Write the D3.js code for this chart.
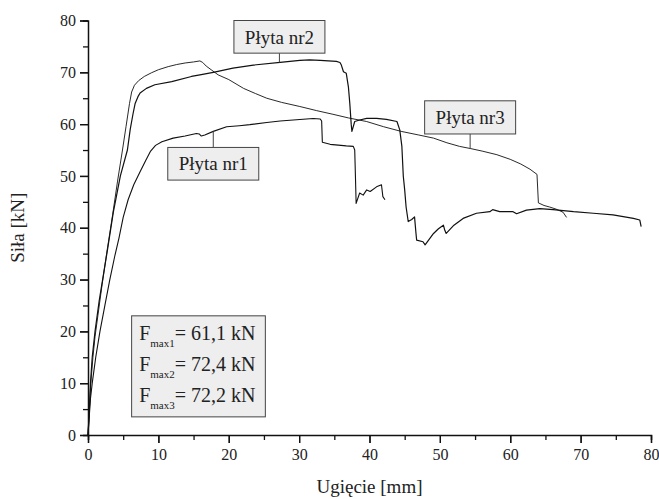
<!DOCTYPE html>
<html>
<head>
<meta charset="utf-8">
<script src="https://cdn.jsdelivr.net/npm/d3@7/dist/d3.min.js"></script>
<style>
  html, body { margin: 0; padding: 0; background: #fff; }
  svg { display: block; font-family: "Liberation Serif", "Times New Roman", serif; }
</style>
</head>
<body>
<svg id="chart" width="659" height="499"></svg>
<script>
// Load–deflection curves of three slabs (deflection in mm, force in kN)
const plyta1X = [0, 0.15, 0.35, 0.6, 1.1, 1.7, 2.4, 3.1, 3.8, 4.4, 5.0, 5.7, 6.5, 7.4, 8.2, 8.9, 9.6, 10.5, 12.1, 13.8, 15.4, 15.8, 16.1, 16.6, 17.8, 19.7, 21.5, 23.0, 25.4, 27.3, 30.1, 32.0, 33.0, 33.2, 33.3, 34.4, 36.7, 37.7, 37.9, 38.0, 38.1, 38.6, 39.1, 39.6, 40.1, 41.0, 41.7, 41.9, 42.2];
const plyta1Y = [0, 3, 7, 10, 15, 20, 25, 30, 34.5, 38, 42, 45.4, 48.3, 50.8, 53, 54.8, 55.9, 56.6, 57.3, 57.7, 58.2, 58.1, 57.7, 57.9, 58.6, 59.5, 59.7, 59.9, 60.3, 60.6, 60.9, 61.1, 61.0, 60.6, 56.5, 56.1, 55.8, 55.7, 55.0, 50, 44.7, 46.7, 46.3, 47.3, 47.0, 47.9, 48.3, 46.0, 45.4];

const plyta2X = [0, 0.2, 0.35, 0.6, 1.0, 1.6, 2.2, 2.8, 3.6, 4.6, 5.6, 6.0, 6.4, 6.7, 7.1, 7.4, 8.3, 9.5, 11.9, 14.7, 15.9, 17.8, 20.6, 23.5, 27.3, 30.1, 31.5, 33.0, 35.3, 35.8, 36.0, 36.3, 36.7, 37.0, 37.2, 37.4, 37.5, 37.9, 38.6, 39.6, 41.0, 42.4, 43.9, 44.3, 44.6, 44.8, 45.0, 45.2, 45.5, 46.0, 46.4, 46.6, 46.7, 47.6, 47.9, 48.5, 49.1, 49.8, 50.5, 50.7, 50.9, 52.0, 53.3, 55.2, 57.1, 57.5, 58.5, 60.4, 60.9, 62.3, 64.2, 66.1, 69.0, 71.8, 74.6, 77.5, 78.4, 78.6];
const plyta2Y = [0, 5, 10, 15, 20, 26, 31, 36, 43, 50, 55, 59, 62, 64, 65.3, 66.0, 66.9, 67.6, 68.2, 69.2, 69.5, 70.0, 70.8, 71.4, 71.9, 72.3, 72.4, 72.3, 72.1, 71.9, 71.4, 70.1, 69.8, 67.2, 64.0, 60, 58.6, 60.5, 60.8, 61.1, 61.1, 60.9, 60.5, 58.9, 55.7, 50, 47.3, 44, 41.2, 41.6, 42.1, 39, 37.6, 37.3, 36.7, 37.8, 38.9, 39.8, 40.5, 39.5, 38.9, 40.5, 41.8, 42.8, 43.1, 43.5, 43.1, 43.1, 42.7, 43.4, 43.7, 43.5, 43.1, 42.8, 42.5, 41.8, 41.5, 40.2];

const plyta3X = [0, 0.15, 0.4, 0.7, 1.0, 1.4, 2.0, 2.7, 3.5, 4.2, 4.9, 5.4, 5.9, 6.2, 6.6, 7.2, 8.0, 9.0, 10.0, 11.4, 12.6, 13.8, 15.0, 15.9, 16.3, 16.8, 17.5, 18.5, 20.0, 22.1, 23.8, 25.4, 27.5, 30.1, 32.5, 34.8, 37.0, 39.6, 42.0, 44.5, 47.0, 49.1, 51.0, 52.8, 54.3, 56.0, 58.1, 60.0, 61.5, 62.8, 63.8, 64.0, 64.8, 65.6, 66.5, 67.5, 68.0];
const plyta3Y = [0, 4, 10, 15, 19, 23, 29, 35.5, 42.5, 49, 55, 59.5, 64, 66.2, 67.5, 68.4, 69.2, 69.9, 70.5, 71.1, 71.5, 71.8, 72.0, 72.2, 71.9, 71.2, 70.5, 69.5, 68.6, 66.9, 65.9, 65.0, 64.2, 63.4, 62.6, 61.9, 61.2, 60.5, 59.5, 58.6, 57.9, 57.3, 56.4, 55.7, 55.3, 54.8, 54.1, 53.2, 52.3, 51.3, 50.3, 44.8, 44.3, 44.0, 43.6, 43.0, 42.0];

const seriesNames = ["Płyta nr1", "Płyta nr2", "Płyta nr3"];
const fmaxNames = ["max1", "max2", "max3"];
const fmaxValues = ["61,1", "72,4", "72,2"];
const xTicks = [0, 10, 20, 30, 40, 50, 60, 70, 80];
const yTicks = [0, 10, 20, 30, 40, 50, 60, 70, 80];
const xTitle = "Ugięcie [mm]";
const yTitle = "Siła [kN]";

const svg = d3.select("#chart");
const x = d3.scaleLinear().domain([0, 80]).range([88, 651]);
const y = d3.scaleLinear().domain([0, 80]).range([435, 20.5]);

const curves = [
  { name: seriesNames[0], xs: plyta1X, ys: plyta1Y, width: 1.1 },
  { name: seriesNames[1], xs: plyta2X, ys: plyta2Y, width: 1.2 },
  { name: seriesNames[2], xs: plyta3X, ys: plyta3Y, width: 0.9 }
];

const line = d3.line().x(d => x(d[0])).y(d => y(d[1]));
svg.append("g").selectAll("path").data(curves).join("path")
  .attr("d", c => line(c.xs.map((v, i) => [v, c.ys[i]])))
  .attr("fill", "none")
  .attr("stroke", "#111")
  .attr("stroke-width", c => c.width)
  .attr("stroke-linejoin", "round");

// Axes: major ticks every 10 with labels, minor ticks every 5
const xAxis = svg.append("g").attr("transform", `translate(0,${y(0)})`)
  .call(d3.axisBottom(x).tickValues(d3.range(0, 81, 5)).tickSize(5).tickFormat(""));
xAxis.selectAll(".tick line").attr("y2", d => d % 10 === 0 ? 8 : 5);
const xAxis2 = svg.append("g").attr("transform", `translate(0,${y(0)})`)
  .call(d3.axisBottom(x).tickValues(xTicks).tickSize(8).tickPadding(6));
xAxis2.select(".domain").remove();

const yAxis = svg.append("g").attr("transform", `translate(${x(0)},0)`)
  .call(d3.axisLeft(y).tickValues(d3.range(0, 81, 5)).tickSize(5).tickFormat(""));
yAxis.selectAll(".tick line").attr("x2", d => d % 10 === 0 ? -8 : -5);
const yAxis2 = svg.append("g").attr("transform", `translate(${x(0)},0)`)
  .call(d3.axisLeft(y).tickValues(yTicks).tickSize(8).tickPadding(4));
yAxis2.select(".domain").remove();

svg.selectAll(".domain").attr("stroke", "#111").attr("stroke-width", 1.5);
svg.selectAll(".tick line").attr("stroke", "#111").attr("stroke-width", 1.3);
svg.selectAll(".tick text")
  .attr("font-family", "Liberation Serif, Times New Roman, serif")
  .attr("font-size", 16).attr("fill", "#222");

// Axis titles
svg.append("text").attr("x", (x(0) + x(80)) / 2).attr("y", 493)
  .attr("text-anchor", "middle").attr("font-size", 19).attr("fill", "#222").text(xTitle);
svg.append("text").attr("transform", `translate(24,${(y(0) + y(80)) / 2}) rotate(-90)`)
  .attr("text-anchor", "middle").attr("font-size", 19).attr("fill", "#222").text(yTitle);

// Curve labels with leader lines
function curveAt(c, xv) {
  for (let i = 1; i < c.xs.length; i++) {
    if (c.xs[i] >= xv) {
      const t = (xv - c.xs[i - 1]) / (c.xs[i] - c.xs[i - 1]);
      return c.ys[i - 1] + t * (c.ys[i] - c.ys[i - 1]);
    }
  }
  return c.ys[c.ys.length - 1];
}
const labels = [
  { curve: curves[0], at: 17.8, top: 55.5, bottom: 49.2 },
  { curve: curves[1], at: 27.2, top: 80.0, bottom: 73.7 },
  { curve: curves[2], at: 54.3, top: 64.5, bottom: 58.1 }
];
const boxW = 91;
const lg = svg.append("g");
labels.forEach(l => {
  const cx = x(l.at);
  const cy = y(curveAt(l.curve, l.at));
  const yt = y(l.top), yb = y(l.bottom);
  const edge = cy < yt ? yt : yb;
  lg.append("line").attr("x1", cx).attr("x2", cx).attr("y1", edge).attr("y2", cy)
    .attr("stroke", "#444").attr("stroke-width", 1);
  lg.append("rect").attr("x", cx - boxW / 2).attr("y", yt).attr("width", boxW).attr("height", yb - yt)
    .attr("fill", "#eeeeee").attr("stroke", "#444").attr("stroke-width", 1);
  lg.append("text").attr("x", cx).attr("y", yt + 23).attr("text-anchor", "middle")
    .attr("font-size", 19).attr("fill", "#222").text(l.curve.name);
});

// Maximum force summary box
const fb = svg.append("g");
const fx0 = x(6.2), fx1 = x(25.2), fy0 = y(23.0), fy1 = y(3.5);
fb.append("rect").attr("x", fx0).attr("y", fy0).attr("width", fx1 - fx0).attr("height", fy1 - fy0)
  .attr("fill", "#eeeeee").attr("stroke", "#444").attr("stroke-width", 1);
fmaxValues.forEach((v, i) => {
  const t = fb.append("text").attr("x", fx0 + 7.5).attr("y", fy0 + 24 + i * 31)
    .attr("font-size", 20).attr("fill", "#222");
  t.append("tspan").text("F");
  t.append("tspan").attr("font-size", 11).attr("dy", 7).text(fmaxNames[i]);
  t.append("tspan").attr("dy", -7).text("= " + v + " kN");
});
</script>
</body>
</html>
